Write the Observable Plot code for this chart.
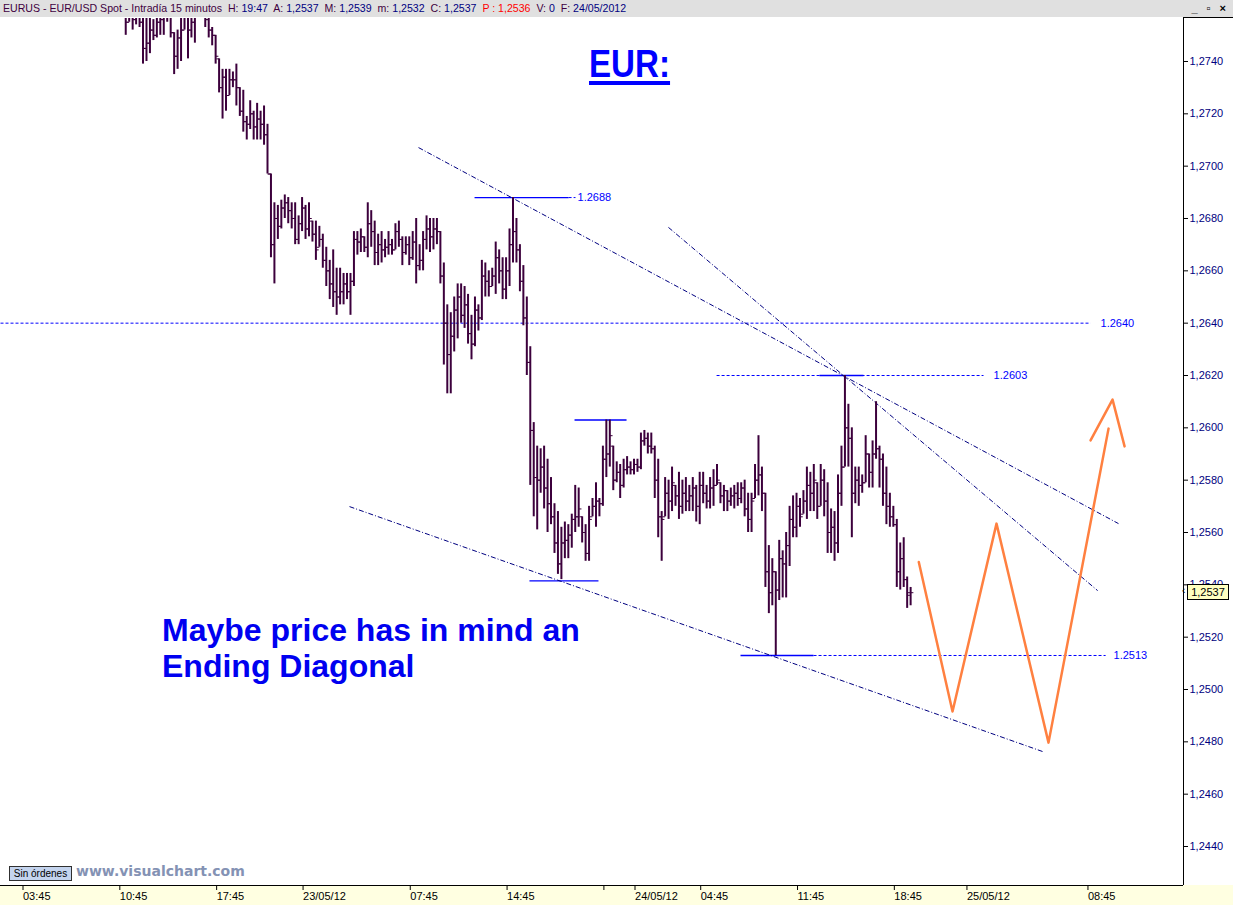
<!DOCTYPE html>
<html><head><meta charset="utf-8">
<script src="https://cdn.jsdelivr.net/npm/d3@7"></script>
<script src="https://cdn.jsdelivr.net/npm/@observablehq/plot@0.6"></script>
<style>
html,body{margin:0;padding:0;background:#fff;}
body{width:1233px;height:905px;overflow:hidden;position:relative;font-family:"Liberation Sans",Arial,sans-serif;}
#hdr{position:absolute;left:0;top:0;width:1233px;height:17px;background:#e0e0e0;font-size:10.6px;line-height:17px;white-space:nowrap;color:#400040;}
#hdr .t{position:absolute;left:3px;top:0;}
#hdr .v{color:#000080;}
#hdr .r{color:#ff0000;}
#hdr .btn{position:absolute;right:4px;top:0;font-size:11px;font-weight:bold;color:#000;letter-spacing:3px;}
#chart{position:absolute;left:0;top:18px;}
.ov{position:absolute;white-space:nowrap;}
#eur{left:589px;top:45px;font:bold 39px/38px "Liberation Sans",Arial,sans-serif;color:#0000ff;transform:scaleX(0.85);transform-origin:0 0;text-decoration:underline;text-decoration-thickness:4px;text-underline-offset:4px;}
#note{left:162px;top:612px;font:bold 32px/36px "Liberation Sans",Arial,sans-serif;color:#0000f0;}
#sin{left:9px;top:866px;width:61px;height:13px;border:1px solid #303030;background:#c4d4ee;font-size:10px;line-height:13px;text-align:center;color:#000;}
#vc{left:76px;top:862px;font:bold 14px/18px "DejaVu Sans",sans-serif;color:#8492b4;}
#last{left:1187px;top:584px;width:40px;height:14px;border:1px solid #000;background:#ffffc0;font-size:11px;line-height:14px;text-align:center;color:#000;}
#arr{left:1182px;top:584px;font-size:10px;line-height:14px;color:#000;}
#rtop{left:1183px;top:17px;width:50px;height:0;border-top:1px solid #000;}
</style></head><body>
<div id="hdr"><span class="t">EURUS - EUR/USD Spot - Intradía 15 minutos&nbsp; H: <span class="v">19:47</span>&nbsp; A: <span class="v">1,2537</span>&nbsp; M: <span class="v">1,2539</span>&nbsp; m: <span class="v">1,2532</span>&nbsp; C: <span class="v">1,2537</span>&nbsp; <span class="r">P : 1,2536</span>&nbsp; V: <span class="v">0</span>&nbsp; F: <span class="v">24/05/2012</span></span><span class="btn">_ ▫ ×</span></div>
<div id="chart"></div>
<div class="ov" id="rtop"></div>
<div class="ov" id="eur">EUR:</div>
<div class="ov" id="note">Maybe price has in mind an<br>Ending Diagonal</div>
<div class="ov" id="sin">Sin órdenes</div>
<div class="ov" id="vc">www.visualchart.com</div>
<div class="ov" id="last">1,2537</div>
<div class="ov" id="arr">‹</div>
<script>
// ---- Data: 15-minute OHLC bars, EUR/USD, from 22/05/12 11:15 (hours since 22/05 00:00) ----
const startHour = 11.25;
const barMinutes = 15;
const open = [
1.2758,1.2755,1.2758,1.2756,1.2758,1.2755,1.2745,1.2747,1.2752,1.2750,
1.2755,1.2756,1.2758,1.2760,1.2751,1.2742,1.2749,1.2752,1.2758,1.2752,
1.2755,1.2758,1.2765,1.2760,1.2756,1.2752,1.2750,1.2741,1.2730,1.2734,
1.2727,1.2733,1.2733,1.2730,1.2721,1.2717,1.2716,1.2720,1.2715,1.2718,
1.2716,1.2712,1.2697,1.2670,1.2680,1.2677,1.2684,1.2686,1.2683,1.2680,
1.2672,1.2678,1.2684,1.2676,1.2679,1.2674,1.2669,1.2672,1.2664,1.2660,
1.2655,1.2652,1.2650,1.2652,1.2655,1.2652,1.2656,1.2672,1.2671,1.2673,
1.2669,1.2678,1.2675,1.2667,1.2670,1.2668,1.2669,1.2670,1.2668,1.2675,
1.2672,1.2667,1.2670,1.2665,1.2671,1.2662,1.2664,1.2672,1.2676,1.2673,
1.2676,1.2675,1.2658,1.2640,1.2628,1.2635,1.2645,1.2650,1.2643,1.2647,
1.2636,1.2632,1.2645,1.2642,1.2658,1.2656,1.2654,1.2658,1.2665,1.2660,
1.2653,1.2660,1.2670,1.2675,1.2668,1.2656,1.2642,1.2625,1.2599,1.2581,
1.2580,1.2585,1.2577,1.2571,1.2566,1.2556,1.2548,1.2556,1.2557,1.2559,
1.2565,1.2566,1.2566,1.2560,1.2552,1.2566,1.2570,1.2572,1.2571,1.2588,
1.2590,1.2593,1.2580,1.2583,1.2578,1.2584,1.2585,1.2584,1.2586,1.2585,
1.2595,1.2596,1.2593,1.2592,1.2580,1.2566,1.2566,1.2575,1.2572,1.2578,
1.2574,1.2570,1.2575,1.2572,1.2574,1.2577,1.2570,1.2578,1.2575,1.2572,
1.2577,1.2578,1.2579,1.2574,1.2576,1.2572,1.2574,1.2575,1.2573,1.2577,
1.2569,1.2565,1.2573,1.2580,1.2582,1.2575,1.2545,1.2537,1.2545,1.2538,
1.2550,1.2548,1.2555,1.2565,1.2562,1.2570,1.2567,1.2572,1.2578,1.2575,
1.2579,1.2570,1.2580,1.2572,1.2560,1.2562,1.2556,1.2575,1.2585,1.2600,
1.2596,1.2575,1.2580,1.2578,1.2579,1.2590,1.2583,1.2590,1.2592,1.2588,
1.2575,1.2570,1.2566,1.2563,1.2545,1.2550,1.2542,1.2537];
const high = [
1.2760,1.2762,1.2761,1.2763,1.2762,1.2758,1.2757,1.2760,1.2756,1.2762,
1.2761,1.2762,1.2764,1.2760,1.2751,1.2752,1.2760,1.2762,1.2760,1.2758,
1.2760,1.2770,1.2768,1.2762,1.2760,1.2753,1.2750,1.2741,1.2737,1.2737,
1.2737,1.2736,1.2739,1.2730,1.2729,1.2719,1.2725,1.2721,1.2724,1.2721,
1.2723,1.2716,1.2697,1.2686,1.2685,1.2687,1.2689,1.2688,1.2686,1.2686,
1.2681,1.2688,1.2685,1.2686,1.2679,1.2679,1.2677,1.2674,1.2669,1.2664,
1.2668,1.2661,1.2661,1.2659,1.2659,1.2659,1.2675,1.2675,1.2676,1.2673,
1.2686,1.2683,1.2679,1.2674,1.2675,1.2672,1.2675,1.2672,1.2678,1.2679,
1.2673,1.2673,1.2673,1.2675,1.2680,1.2670,1.2675,1.2681,1.2680,1.2680,
1.2680,1.2675,1.2663,1.2647,1.2644,1.2650,1.2655,1.2655,1.2654,1.2651,
1.2643,1.2650,1.2647,1.2664,1.2663,1.2660,1.2661,1.2671,1.2668,1.2665,
1.2665,1.2676,1.2688,1.2680,1.2670,1.2662,1.2650,1.2631,1.2602,1.2593,
1.2592,1.2593,1.2588,1.2581,1.2571,1.2568,1.2562,1.2564,1.2563,1.2567,
1.2578,1.2577,1.2566,1.2563,1.2570,1.2573,1.2579,1.2573,1.2593,1.2603,
1.2603,1.2593,1.2587,1.2586,1.2588,1.2589,1.2587,1.2588,1.2588,1.2598,
1.2599,1.2598,1.2598,1.2593,1.2588,1.2568,1.2581,1.2580,1.2585,1.2578,
1.2583,1.2580,1.2581,1.2578,1.2581,1.2578,1.2583,1.2583,1.2578,1.2581,
1.2584,1.2586,1.2579,1.2578,1.2576,1.2577,1.2578,1.2579,1.2579,1.2580,
1.2575,1.2575,1.2586,1.2597,1.2585,1.2575,1.2555,1.2550,1.2545,1.2557,
1.2553,1.2560,1.2570,1.2574,1.2575,1.2573,1.2576,1.2585,1.2583,1.2586,
1.2579,1.2586,1.2584,1.2579,1.2569,1.2568,1.2582,1.2593,1.2620,1.2609,
1.2600,1.2585,1.2585,1.2582,1.2597,1.2590,1.2595,1.2610,1.2593,1.2590,
1.2585,1.2575,1.2570,1.2565,1.2556,1.2558,1.2543,1.2539];
const low = [
1.2750,1.2755,1.2752,1.2754,1.2753,1.2739,1.2740,1.2743,1.2748,1.2749,
1.2750,1.2750,1.2755,1.2749,1.2735,1.2737,1.2740,1.2752,1.2741,1.2749,
1.2747,1.2758,1.2758,1.2753,1.2749,1.2746,1.2739,1.2728,1.2718,1.2721,
1.2727,1.2730,1.2723,1.2719,1.2713,1.2710,1.2714,1.2710,1.2710,1.2710,
1.2708,1.2697,1.2665,1.2655,1.2672,1.2676,1.2680,1.2678,1.2676,1.2670,
1.2670,1.2675,1.2672,1.2673,1.2671,1.2664,1.2669,1.2661,1.2654,1.2649,
1.2646,1.2643,1.2647,1.2647,1.2649,1.2643,1.2654,1.2666,1.2667,1.2667,
1.2665,1.2669,1.2662,1.2662,1.2663,1.2665,1.2666,1.2666,1.2668,1.2669,
1.2662,1.2666,1.2662,1.2664,1.2655,1.2660,1.2660,1.2668,1.2667,1.2668,
1.2670,1.2655,1.2624,1.2613,1.2613,1.2629,1.2634,1.2640,1.2638,1.2632,
1.2626,1.2631,1.2637,1.2641,1.2650,1.2650,1.2654,1.2651,1.2655,1.2649,
1.2649,1.2654,1.2663,1.2663,1.2652,1.2639,1.2620,1.2578,1.2566,1.2561,
1.2575,1.2569,1.2560,1.2563,1.2552,1.2544,1.2542,1.2550,1.2550,1.2554,
1.2560,1.2562,1.2556,1.2549,1.2549,1.2566,1.2562,1.2566,1.2570,1.2581,
1.2585,1.2576,1.2579,1.2573,1.2577,1.2582,1.2582,1.2582,1.2583,1.2584,
1.2593,1.2590,1.2590,1.2573,1.2558,1.2549,1.2566,1.2565,1.2568,1.2570,
1.2565,1.2567,1.2568,1.2568,1.2568,1.2564,1.2563,1.2571,1.2569,1.2569,
1.2570,1.2578,1.2571,1.2568,1.2568,1.2570,1.2569,1.2570,1.2571,1.2566,
1.2560,1.2560,1.2573,1.2574,1.2568,1.2539,1.2529,1.2532,1.2513,1.2534,
1.2535,1.2535,1.2547,1.2558,1.2558,1.2562,1.2567,1.2565,1.2568,1.2568,
1.2565,1.2570,1.2566,1.2552,1.2552,1.2549,1.2552,1.2570,1.2585,1.2585,
1.2558,1.2571,1.2570,1.2575,1.2579,1.2577,1.2577,1.2588,1.2577,1.2570,
1.2563,1.2562,1.2562,1.2539,1.2538,1.2539,1.2531,1.2532];
const close = [
1.2755,1.2758,1.2756,1.2758,1.2755,1.2745,1.2747,1.2752,1.2750,1.2755,
1.2756,1.2758,1.2760,1.2751,1.2742,1.2749,1.2752,1.2758,1.2752,1.2755,
1.2757,1.2765,1.2760,1.2756,1.2752,1.2750,1.2742,1.2730,1.2734,1.2727,
1.2733,1.2733,1.2730,1.2721,1.2717,1.2716,1.2720,1.2715,1.2718,1.2716,
1.2712,1.2697,1.2670,1.2680,1.2677,1.2684,1.2686,1.2683,1.2680,1.2672,
1.2678,1.2684,1.2676,1.2680,1.2674,1.2668,1.2672,1.2664,1.2660,1.2655,
1.2652,1.2650,1.2652,1.2655,1.2652,1.2656,1.2672,1.2671,1.2673,1.2669,
1.2678,1.2675,1.2667,1.2670,1.2668,1.2669,1.2670,1.2668,1.2675,1.2672,
1.2667,1.2670,1.2665,1.2671,1.2662,1.2664,1.2672,1.2676,1.2673,1.2676,
1.2675,1.2658,1.2640,1.2628,1.2635,1.2645,1.2650,1.2643,1.2647,1.2636,
1.2632,1.2645,1.2642,1.2658,1.2656,1.2654,1.2658,1.2665,1.2660,1.2653,
1.2660,1.2670,1.2675,1.2668,1.2656,1.2642,1.2625,1.2599,1.2581,1.2580,
1.2585,1.2577,1.2571,1.2566,1.2556,1.2548,1.2556,1.2557,1.2559,1.2565,
1.2566,1.2569,1.2560,1.2552,1.2565,1.2570,1.2572,1.2571,1.2588,1.2590,
1.2597,1.2580,1.2583,1.2578,1.2584,1.2585,1.2584,1.2586,1.2585,1.2595,
1.2596,1.2593,1.2592,1.2580,1.2566,1.2565,1.2575,1.2572,1.2579,1.2574,
1.2570,1.2575,1.2572,1.2574,1.2577,1.2570,1.2578,1.2575,1.2572,1.2577,
1.2578,1.2580,1.2574,1.2576,1.2572,1.2574,1.2575,1.2573,1.2577,1.2569,
1.2565,1.2572,1.2580,1.2582,1.2575,1.2545,1.2537,1.2545,1.2538,1.2550,
1.2548,1.2555,1.2565,1.2562,1.2570,1.2566,1.2572,1.2578,1.2575,1.2580,
1.2570,1.2580,1.2572,1.2560,1.2562,1.2556,1.2575,1.2585,1.2600,1.2596,
1.2575,1.2580,1.2578,1.2579,1.2590,1.2583,1.2590,1.2592,1.2588,1.2575,
1.2570,1.2566,1.2563,1.2545,1.2550,1.2542,1.2536,1.2537];

// ---- Axes ----
const xTickHours  = [3.75, 10.75, 17.75, 24, 31.75, 38.75, 45.75, 48, 52.75, 59.75, 66.75, 72, 80.75];
const xTickLabels = ["03:45","10:45","17:45","23/05/12","07:45","14:45","","24/05/12","04:45","11:45","18:45","25/05/12","08:45"];
const yTicks = [1.2440,1.2460,1.2480,1.2500,1.2520,1.2540,1.2560,1.2580,1.2600,1.2620,1.2640,1.2660,1.2680,1.2700,1.2720,1.2740];
const xDomain = [2.195, 87.73];
const yDomain = [1.24251, 1.275643];

// ---- Annotations (hours, price) ----
const solidLevels = [
  {p: 1.2688, t1: 36.47, t2: 43.27},
  {p: 1.2603, t1: 43.70, t2: 47.46},
  {p: 1.25415, t1: 40.44, t2: 45.43},
  {p: 1.2513, t1: 55.70, t2: 60.98},
  {p: 1.2620, t1: 61.41, t2: 64.59}
];
const dottedLevels = [
  {p: 1.2640, t1: 2.195, t2: 81.01},
  {p: 1.2620, t1: 53.97, t2: 73.27},
  {p: 1.2513, t1: 60.98, t2: 82.10},
  {p: 1.2688, t1: 43.27, t2: 43.77}
];
const levelLabels = [
  {p: 1.2688, t: 43.92, text: "1.2688"},
  {p: 1.2640, t: 81.73, text: "1.2640"},
  {p: 1.2620, t: 74.00, text: "1.2603"},
  {p: 1.2513, t: 82.67, text: "1.2513"}
];
const trendLines = [
  {t1: 32.42, p1: 1.27071, t2: 83.03, p2: 1.25634},
  {t1: 50.49, p1: 1.26766, t2: 81.52, p2: 1.25378},
  {t1: 27.43, p1: 1.25699, t2: 77.54, p2: 1.24763}
];
const projection = [
  {t: 68.59, p: 1.25487}, {t: 71.03, p: 1.24916}, {t: 74.21, p: 1.25634},
  {t: 77.97, p: 1.24797}, {t: 82.31, p: 1.25997}
];
const arrowHead = [{t: 81.01, p: 1.25952}, {t: 82.60, p: 1.26108}, {t: 83.47, p: 1.25929}];

const bars = high.map((h, i) => ({
  t: startHour + i * barMinutes / 60, o: open[i], h, l: low[i], c: close[i]
}));
const tickW = 0.2; // tick length in hours
const labelMap = new Map(xTickHours.map((h, i) => [h, xTickLabels[i]]));
const barColor = "#3c003c";

const chart = Plot.plot({
  width: 1233, height: 887,
  marginTop: 0, marginBottom: 20, marginLeft: 0, marginRight: 50,
  style: {fontFamily: "Liberation Sans, Arial, sans-serif", fontSize: "11px", background: "linear-gradient(to bottom, #fff 867px, #ffffe1 867px)", overflow: "visible"},
  x: {type: "linear", domain: xDomain, axis: null},
  y: {type: "linear", domain: yDomain, axis: null},
  marks: [
    Plot.link(dottedLevels, {x1: "t1", x2: "t2", y1: "p", y2: "p", stroke: "#0000ff", strokeWidth: 1, strokeDasharray: "3,2", clip: true}),
    Plot.link(solidLevels, {x1: "t1", x2: "t2", y1: "p", y2: "p", stroke: "#0000ff", strokeWidth: 1.3}),
    Plot.text(levelLabels, {x: "t", y: "p", text: "text", fill: "#0000ff", textAnchor: "start", fontSize: 11}),
    Plot.link(trendLines, {x1: "t1", y1: "p1", x2: "t2", y2: "p2", stroke: "#000080", strokeWidth: 1, strokeDasharray: "5,2,1,2"}),
    Plot.ruleX(bars, {x: "t", y1: "l", y2: "h", stroke: barColor, strokeWidth: 2, clip: true}),
    Plot.link(bars, {x1: d => d.t - tickW, x2: "t", y1: "o", y2: "o", stroke: barColor, strokeWidth: 1, clip: true}),
    Plot.link(bars, {x1: "t", x2: d => d.t + tickW, y1: "c", y2: "c", stroke: barColor, strokeWidth: 1, clip: true}),
    Plot.line(projection, {x: "t", y: "p", stroke: "#ff8040", strokeWidth: 2.5}),
    Plot.line(arrowHead, {x: "t", y: "p", stroke: "#ff8040", strokeWidth: 2.5}),
    Plot.axisY(yTicks, {anchor: "right", tickSize: 4, tickPadding: 2, tickFormat: d => d.toFixed(4).replace(".", ","), fill: "#000080", stroke: "#000", fontSize: 11}),
    Plot.axisX(xTickHours, {anchor: "bottom", tickSize: 5, tickPadding: 2, tickFormat: d => labelMap.get(d), textAnchor: "start", dx: 1, fill: "#000", stroke: "#000", fontSize: 11}),
    Plot.ruleX([xDomain[1]], {stroke: "#000", strokeWidth: 1}),
    Plot.ruleY([yDomain[0]], {stroke: "#000", strokeWidth: 1})
  ]
});
document.getElementById("chart").appendChild(chart);
</script>
</body></html>
